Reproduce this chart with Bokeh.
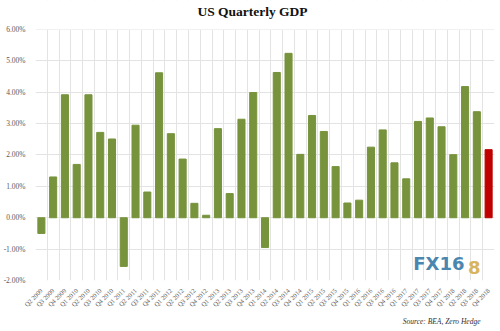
import math
from bokeh.plotting import figure
from bokeh.models import (ColumnDataSource, FixedTicker, Range1d, Label, Title,
                          PrintfTickFormatter, BoxAnnotation)
from bokeh.embed import file_html
from bokeh.resources import INLINE

quarters = ["Q2 2009", "Q3 2009", "Q4 2009",
            "Q1 2010", "Q2 2010", "Q3 2010", "Q4 2010",
            "Q1 2011", "Q2 2011", "Q3 2011", "Q4 2011",
            "Q1 2012", "Q2 2012", "Q3 2012", "Q4 2012",
            "Q1 2013", "Q2 2013", "Q3 2013", "Q4 2013",
            "Q1 2014", "Q2 2014", "Q3 2014", "Q4 2014",
            "Q1 2015", "Q2 2015", "Q3 2015", "Q4 2015",
            "Q1 2016", "Q2 2016", "Q3 2016", "Q4 2016",
            "Q1 2017", "Q2 2017", "Q3 2017", "Q4 2017",
            "Q1 2018", "Q2 2018", "Q3 2018", "Q4 2018"]
gdp = [-0.50, 1.30, 3.92,
       1.70, 3.92, 2.72, 2.51,
       -1.55, 2.95, 0.82, 4.62,
       2.68, 1.87, 0.46, 0.08,
       2.84, 0.77, 3.14, 3.99,
       -0.95, 4.63, 5.24, 2.02,
       3.26, 2.75, 1.63, 0.47,
       0.56, 2.25, 2.80, 1.75,
       1.24, 3.07, 3.18, 2.90,
       2.01, 4.18, 3.38, 2.17]
y_ticks = [-2, -1, 0, 1, 2, 3, 4, 5, 6]

GREEN = "#77933C"
RED = "#C00000"
n = len(quarters)
xs = list(range(1, n + 1))
colors = [GREEN] * (n - 1) + [RED]
src = ColumnDataSource(dict(x=xs, top=gdp, color=colors))

# the frame reaches the top of the canvas; the area above 6% holds the title
p = figure(width=500, height=331, output_backend="svg", toolbar_location=None,
           x_range=Range1d(0.5, n + 0.5), y_range=Range1d(y_ticks[0], 6.924), title=None,
           min_border_left=33, min_border_right=6, min_border_top=0, min_border_bottom=51)

p.vbar(x="x", top="top", bottom=0, width=0.6, color="color", source=src)

# blank out the grid above the top tick
p.add_layout(BoxAnnotation(bottom=y_ticks[-1], fill_color="white", fill_alpha=1.0,
                           line_color=None))

p.add_layout(Label(x=217, y=269, x_units="screen", y_units="screen",
                   text="US Quarterly GDP", text_align="center", text_baseline="middle",
                   text_font="Liberation Serif", text_font_style="bold",
                   text_font_size="13.5px", text_color="#111111"))

p.add_layout(Title(text="Source: BEA, Zero Hedge", align="right", offset=14, standoff=3,
                   text_font="Liberation Serif", text_font_style="italic",
                   text_font_size="7.5px", text_color="#333333"), "below")

# axes
p.yaxis.ticker = FixedTicker(ticks=y_ticks)
p.yaxis.formatter = PrintfTickFormatter(format="%.2f%%")
p.yaxis.axis_line_color = None
p.yaxis.major_tick_line_color = None
p.yaxis.minor_tick_line_color = None
p.yaxis.major_label_text_font = "Liberation Serif"
p.yaxis.major_label_text_font_size = "7.5px"
p.yaxis.major_label_text_color = "#595959"
p.yaxis.major_label_standoff = 4

p.xaxis.ticker = FixedTicker(ticks=xs)
p.xaxis.major_label_overrides = {x: q for x, q in zip(xs, quarters)}
p.xaxis.major_label_orientation = math.pi / 4
p.xaxis.axis_line_color = None
p.xaxis.major_tick_line_color = None
p.xaxis.minor_tick_line_color = None
p.xaxis.major_label_text_font = "Liberation Serif"
p.xaxis.major_label_text_font_size = "6.5px"
p.xaxis.major_label_text_color = "#595959"
p.xaxis.major_label_standoff = 3

p.xgrid.ticker = FixedTicker(ticks=[x + 0.5 for x in [0] + xs])
p.xgrid.grid_line_color = "#E3E3E3"
p.ygrid.grid_line_color = "#E3E3E3"
p.outline_line_color = None
p.border_fill_color = "white"
p.background_fill_color = "white"

# watermark
p.add_layout(Label(x=32.6, y=-1.78, text="FX16", text_font="DejaVu Sans", text_font_style="bold",
                   text_font_size="18px", text_color="#4A86AE"))
p.add_layout(Label(x=37.25, y=-1.78, text="8", text_font="DejaVu Sans", text_font_style="bold",
                   text_font_size="18px", text_color="#D8B45E"))

open("out.html", "w").write(file_html(p, INLINE))
